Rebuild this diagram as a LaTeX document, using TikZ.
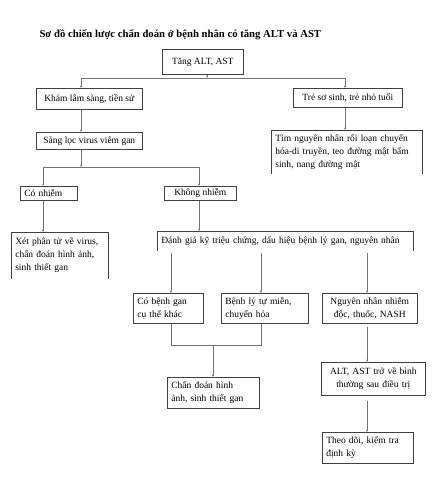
\documentclass[tikz,border=0pt]{standalone}
\usepackage{fontspec}
\setmainfont{Liberation Serif}
\usetikzlibrary{arrows.meta}

\begin{document}
\begin{tikzpicture}[x=1pt,y=-1pt]
\tikzset{box/.style 2 args = {draw=black!75, line width=.6pt, anchor=north west, minimum width=#1pt, minimum height=#2pt, inner xsep=4pt, inner ysep=0pt, align=center, font=\fontsize{9.5}{13}\selectfont},
  obox/.style 2 args = {box={#1}{#2}, draw=none},
  edge/.style = {draw=black!75, line width=.6pt},
  con/.style = {draw=black!55, line width=.5pt},
  arr/.style = {con, -{Stealth[length=2.4pt,width=1.8pt]}}}
\useasboundingbox (0,0) rectangle (434,500);

\node[anchor=base west, font=\bfseries\fontsize{10.7}{12}\selectfont] (title) at (36,38) {Sơ đồ chiến lược chẩn đoán ở bệnh nhân có tăng ALT và AST};

% boxes
\node[box={81}{25}] (tang) at (162,49) {Tăng ALT, AST};
\node[box={106}{21}] (kham) at (36,88) {Khám lâm sàng, tiền sử};
\node[box={109}{19}] (tre) at (293,88) {Trẻ sơ sinh, trẻ nhỏ tuổi};
\node[box={106}{17}] (sang) at (36,132) {Sàng lọc virus viêm gan};
\node[obox={151}{43}, text width=143pt, align=left] (tim) at (271,130) {Tìm nguyên nhân rối loạn chuyển\\ hóa-di truyền, teo đường mật bẩm\\ sinh, nang đường mật};
\node[box={57}{14}, text width=49pt, align=left] (conhiem) at (20,186) {Có nhiễm};
\node[box={72}{14}] (khong) at (164,186) {Không nhiễm};
\node[obox={97}{46}, text width=89pt, align=left] (xet) at (11,232) {Xét phân tử về virus,\\ chẩn đoán hình ảnh,\\ sinh thiết gan};
\node[obox={256}{19}, text width=248pt, align=left] (danh) at (157,231) {Đánh giá kỹ triệu chứng, dấu hiệu bệnh lý gan, nguyên nhân};
\node[box={70}{30}, text width=62pt, align=left] (cobenh) at (133,293) {Có bệnh gan\\ cụ thể khác};
\node[box={87}{30}, text width=79pt, align=left] (benhly) at (221,293) {Bệnh lý tự miễn,\\ chuyển hóa};
\node[box={95}{30}, text width=87pt] (nguyen) at (322,293) {Nguyên nhân nhiễm\\ độc, thuốc, NASH};
\node[box={92}{31}, text width=84pt, align=left] (chan) at (167,377) {Chẩn đoán hình\\ ảnh, sinh thiết gan};
\node[box={104}{33}, text width=96pt] (alt) at (321,362) {ALT, AST trở về bình\\ thường sau điều trị};
\node[box={91}{31}, text width=83pt, align=left] (theo) at (322,432) {Theo dõi, kiểm tra\\ định kỳ};

% boxes open at the bottom
\draw[edge] (tim.south west) -- (tim.north west) -- (tim.north east) -- (tim.south east);
\draw[edge] (xet.south west) -- (xet.north west) -- (xet.north east) -- (xet.south east);
\draw[edge] (danh.south west) -- (danh.north west) -- (danh.north east) -- (danh.south east);

% connectors
\coordinate (s1) at (207,78);
\coordinate (s1l) at (81,78);
\coordinate (s1r) at (345,78);
\draw[arr] (tang.south -| s1) -- (s1);
\draw[con] (s1l) -- (s1r);
\draw[arr] (s1l) -- (kham.north -| s1l);
\draw[arr] (s1r) -- (tre.north -| s1r);
\draw[arr] (kham.south -| s1l) -- (sang.north -| s1l);
\draw[arr] (tre.south -| s1r) -- (tim.north -| s1r);

\coordinate (s2) at (81,167);
\coordinate (s2l) at (43,167);
\coordinate (s2r) at (199,167);
\draw[arr] (sang.south -| s2) -- (s2);
\draw[con] (s2l) -- (s2r);
\draw[arr] (s2l) -- (conhiem.north -| s2l);
\draw[arr] (s2r) -- (khong.north -| s2r);
\draw[arr] (conhiem.south -| s2l) -- (xet.north -| s2l);
\draw[arr] (khong.south -| s2r) -- (danh.north -| s2r);

\coordinate (d1) at (171,253);
\coordinate (d2) at (261,253);
\coordinate (d3) at (367,253);
\draw[arr] (d1) -- (cobenh.north -| d1);
\draw[arr] (d2) -- (benhly.north -| d2);
\draw[arr] (d3) -- (nguyen.north -| d3);

\coordinate (j1) at (171,345);
\coordinate (j2) at (261,345);
\coordinate (j) at (213,345);
\draw[con] (cobenh.south -| j1) -- (j1) -- (j2) -- (benhly.south -| j2);
\draw[arr] (j) -- (chan.north -| j);
\draw[arr, shorten <=3pt] (nguyen.south -| d3) -- (alt.north -| d3);
\draw[arr, shorten <=5pt] (alt.south -| d3) -- (theo.north -| d3);
\end{tikzpicture}
\end{document}
